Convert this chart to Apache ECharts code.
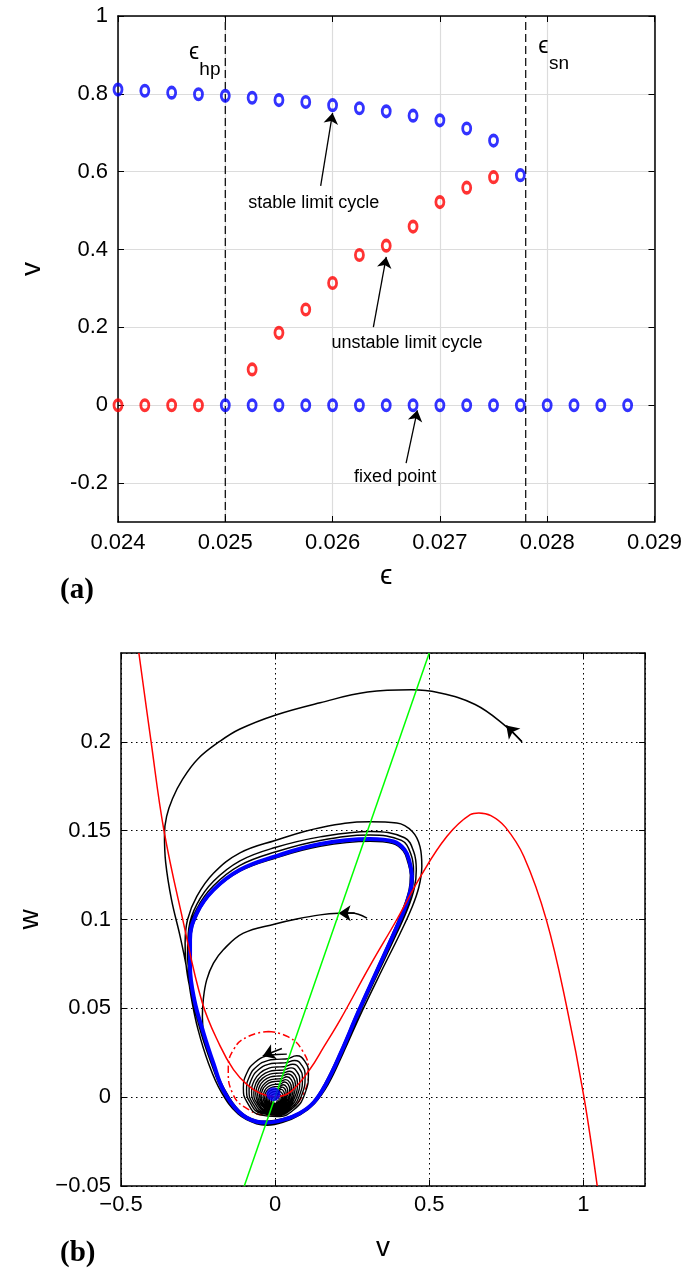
<!DOCTYPE html>
<html><head><meta charset="utf-8">
<script src="https://cdn.jsdelivr.net/npm/echarts@6/dist/echarts.min.js"></script>
<style>html,body{margin:0;padding:0;background:#fff}#c{width:685px;height:1279px}</style>
</head><body><div id="c"></div>
<script>
// ---------- panel (a) data ----------
const epsStableCycle = [0.024,0.02425,0.0245,0.02475,0.025,0.02525,0.0255,0.02575,0.026,0.02625,0.0265,0.02675,0.027,0.02725,0.0275,0.02775];
const vStableCycle   = [0.811,0.808,0.803,0.799,0.795,0.790,0.784,0.779,0.771,0.763,0.755,0.744,0.732,0.711,0.680,0.591];
const epsUnstableCycle = [0.02525,0.0255,0.02575,0.026,0.02625,0.0265,0.02675,0.027,0.02725,0.0275];
const vUnstableCycle   = [0.092,0.186,0.246,0.314,0.386,0.410,0.459,0.522,0.559,0.586];
const epsUnstableFixed = [0.024,0.02425,0.0245,0.02475];
const vUnstableFixed   = [0,0,0,0];
const epsStableFixed = [0.025,0.02525,0.0255,0.02575,0.026,0.02625,0.0265,0.02675,0.027,0.02725,0.0275,0.02775,0.028,0.02825,0.0285,0.02875];
const vStableFixed   = [0,0,0,0,0,0,0,0,0,0,0,0,0,0,0,0];
const epsHopf = 0.025, epsSaddleNode = 0.0278;
const yTicksA = [-0.2,0,0.2,0.4,0.6,0.8,1];
const annotTextsA = ['stable limit cycle','unstable limit cycle','fixed point'];
const annotPosA = [[0.025824,0.520],[0.026694,0.1595],[0.026583,-0.185]];
const annotArrowsA = [[[0.025889,0.5633],[0.0260,0.751]],[[0.02638,0.2006],[0.0265,0.381]],[[0.026685,-0.149],[0.02679,-0.013]]];

// ---------- panel (b) data ----------
const redNullcline = [[-0.442,0.250],[-0.403,0.2008],[-0.361,0.1505],[-0.300,0.1002],[-0.236,0.0530],[-0.179,0.0290],[-0.135,0.0155],[-0.092,0.0072],[-0.049,0.0022],[0.000,0.0003],[0.050,0.0030],[0.114,0.0160],[0.157,0.0280],[0.211,0.0435],[0.308,0.0740],[0.395,0.1000],[0.471,0.1240],[0.557,0.1467],[0.633,0.1590],[0.661,0.1600],[0.700,0.1585],[0.747,0.1520],[0.807,0.1355],[0.880,0.0998],[0.947,0.0500],[1.002,0.0000],[1.045,-0.0500]];
const greenNullcline = [[-0.1,-0.05],[0.5,0.25]];
const blueCycle = [[0.444,0.1250],[0.436,0.1325],[0.420,0.1393],[0.384,0.1439],[0.308,0.1453],[0.146,0.1425],[0.000,0.1355],[-0.114,0.1280],[-0.200,0.1167],[-0.254,0.1036],[-0.276,0.0886],[-0.276,0.0735],[-0.262,0.0548],[-0.232,0.0360],[-0.200,0.0190],[-0.168,0.0040],[-0.118,-0.0082],[-0.060,-0.0138],[-0.027,-0.0143],[0.025,-0.0128],[0.080,-0.0090],[0.125,-0.0030],[0.165,0.0075],[0.212,0.0245],[0.270,0.0480],[0.330,0.0710],[0.385,0.0920],[0.420,0.1060],[0.440,0.1170],[0.444,0.1250]];
const outerTraj = [[0.801,0.2000],[0.747,0.2090],[0.649,0.2210],[0.528,0.2278],[0.442,0.2293],[0.300,0.2280],[0.146,0.2220],[0.000,0.2150],[-0.114,0.2072],[-0.180,0.2002],[-0.250,0.1905],[-0.300,0.1790],[-0.333,0.1680],[-0.352,0.1580],[-0.359,0.1480],[-0.355,0.1320],[-0.336,0.1110],[-0.308,0.0904],[-0.286,0.0717],[-0.272,0.0560],[-0.250,0.0380],[-0.216,0.0190],[-0.175,0.0030],[-0.120,-0.0095],[-0.060,-0.0150],[-0.025,-0.0158],[0.025,-0.0142],[0.082,-0.0098],[0.128,-0.0035],[0.172,0.0072],[0.220,0.0245],[0.281,0.0480],[0.345,0.0710],[0.405,0.0920],[0.442,0.1060],[0.466,0.1180],[0.476,0.1300],[0.470,0.1410],[0.445,0.1495],[0.395,0.1543],[0.308,0.1550],[0.146,0.1517],[0.000,0.1445],[-0.114,0.1375],[-0.200,0.1260],[-0.254,0.1130],[-0.284,0.1000],[-0.292,0.0867],[-0.287,0.0717],[-0.268,0.0550],[-0.240,0.0360],[-0.207,0.0190],[-0.172,0.0040],[-0.120,-0.0088],[-0.060,-0.0145],[-0.027,-0.0152],[0.025,-0.0136],[0.081,-0.0094],[0.127,-0.0033],[0.168,0.0074],[0.216,0.0245],[0.275,0.0480],[0.337,0.0710],[0.394,0.0920],[0.430,0.1060],[0.452,0.1180],[0.458,0.1280],[0.450,0.1380],[0.420,0.1460],[0.308,0.1496],[0.146,0.1465],[0.000,0.1405],[-0.114,0.1330],[-0.200,0.1215],[-0.254,0.1085],[-0.280,0.0950],[-0.284,0.0810],[-0.276,0.0650],[-0.262,0.0500],[-0.236,0.0360],[-0.204,0.0190],[-0.170,0.0040],[-0.120,-0.0085],[-0.060,-0.0143],[-0.027,-0.0150],[0.025,-0.0134],[0.081,-0.0093],[0.126,-0.0032],[0.167,0.0074],[0.214,0.0245],[0.272,0.0480],[0.333,0.0710],[0.389,0.0920],[0.425,0.1060],[0.445,0.1175],[0.449,0.1275],[0.440,0.1370],[0.410,0.1445],[0.308,0.1475],[0.146,0.1445],[0.000,0.1380],[-0.114,0.1305],[-0.200,0.1190],[-0.254,0.1060],[-0.279,0.0915],[-0.280,0.0770],[-0.266,0.0560],[-0.236,0.0370]];
const innerTraj = [[0.298,0.1008],[0.270,0.1030],[0.243,0.1036],[0.206,0.1035],[0.146,0.1026],[0.070,0.1003],[0.000,0.0975],[-0.103,0.0923],[-0.168,0.0830],[-0.200,0.0754],[-0.222,0.0660],[-0.233,0.0550],[-0.236,0.0450],[-0.230,0.0340],[-0.205,0.0200],[-0.166,0.0050],[-0.117,-0.0075],[-0.060,-0.0131],[-0.027,-0.0136],[0.025,-0.0122],[0.079,-0.0086],[0.123,-0.0027],[0.162,0.0078],[0.209,0.0246],[0.267,0.0480],[0.327,0.0710],[0.381,0.0920],[0.415,0.1060],[0.435,0.1170],[0.439,0.1250],[0.431,0.1320],[0.416,0.1385],[0.382,0.1428],[0.308,0.1440],[0.146,0.1412],[0.000,0.1345],[-0.114,0.1272],[-0.200,0.1160],[-0.252,0.1030],[-0.273,0.0886],[-0.273,0.0735]];
const spiralBase = [[0.038,0.0242],[0.006,0.0240],[-0.027,0.0232],[-0.066,0.0195],[-0.092,0.0135],[-0.103,0.0051],[-0.092,-0.0025],[-0.049,-0.0100],[0.0055,-0.0109],[0.0595,-0.0072],[0.097,0.0022],[0.108,0.0135],[0.097,0.0200],[0.070,0.0233]];
const spiralCenter = [0.0,-0.003];
const spiralScales = [1,0.90,0.82,0.74,0.67,0.61,0.55,0.49,0.44,0.38,0.33,0.28,0.23,0.18,0.12,0.06];
const unstableCycle = [[-0.022,0.0370],[0.043,0.0339],[0.089,0.0260],[0.108,0.0150],[0.092,0.0020],[0.043,-0.0069],[-0.025,-0.0100],[-0.087,-0.0069],[-0.138,0.0022],[-0.152,0.0150],[-0.134,0.0270],[-0.087,0.0342],[-0.022,0.0370]];
const fixedPoint = [[-0.0055,0.0017]];
const trajArrows = [[[0.800,0.2002],[0.750,0.2092]],[[0.258,0.1036],[0.206,0.1035]],[[0.022,0.0274],[-0.040,0.0232]]];

// ---------- build ----------
const zip = (a,b) => a.map((x,i)=>[x,b[i]]);
const spiral = [];
spiralScales.forEach(s => spiralBase.forEach(p => spiral.push([spiralCenter[0]+s*(p[0]-spiralCenter[0]), spiralCenter[1]+s*(p[1]-spiralCenter[1])])));

const FF = 'Liberation Sans, Arial, DejaVu Sans, sans-serif';
const tickStyle = {show:true, inside:true, length:6, lineStyle:{color:'#000', width:1}};
const axLine = {show:true, onZero:false, lineStyle:{color:'#000', width:1.5}};
const lbl = {color:'#000', fontSize:22, fontFamily:FF};
const fmtA_y = v => { const r = Math.round(v*10)/10; return r===0?'0':String(r); };
const fmtB = d => v => { const r = Math.round(v*Math.pow(10,d))/Math.pow(10,d); return r===0?'0':String(r).replace('-','\u2212'); };
const hollow = (c) => ({color:'rgba(0,0,0,0)', borderColor:c, borderWidth:3.2});
const MS = [8,10.5];

const option = {
  animation:false,
  grid:[
    {left:118, top:16, width:540, height:506, containLabel:false},
    {left:121, top:653, width:524, height:533, containLabel:false}
  ],
  xAxis:[
    {gridIndex:0, type:'value', min:0.024, max:0.029, interval:0.001, position:'bottom',
     axisLine:axLine, axisTick:tickStyle, axisLabel:{...lbl, margin:10, formatter:v=>v.toFixed(3)},
     splitLine:{show:true, lineStyle:{color:'#dcdcdc', width:1.2}},
     name:'\u03f5', nameLocation:'middle', nameGap:40, nameTextStyle:{color:'#000', fontSize:28, fontFamily:FF}},
    {gridIndex:0, type:'value', min:0.024, max:0.029, interval:0.001, position:'top',
     axisLine:axLine, axisTick:tickStyle, axisLabel:{show:false}, splitLine:{show:false}},
    {gridIndex:1, type:'value', min:-0.5, max:1.2, interval:0.5, position:'bottom',
     axisLine:axLine, axisTick:tickStyle, axisLabel:{...lbl, margin:8, showMaxLabel:false, formatter:fmtB(1)},
     splitLine:{show:true, lineStyle:{color:'#000', width:1, type:[1.5,3.5]}},
     name:'v', nameLocation:'middle', nameGap:48, nameTextStyle:{color:'#000', fontSize:28, fontFamily:FF}},
    {gridIndex:1, type:'value', min:-0.5, max:1.2, interval:0.5, position:'top',
     axisLine:axLine, axisTick:tickStyle, axisLabel:{show:false}, splitLine:{show:false}}
  ],
  yAxis:[
    {gridIndex:0, type:'value', min:-0.3, max:1, position:'left',
     axisLine:axLine, axisTick:{...tickStyle, customValues:yTicksA},
     axisLabel:{...lbl, margin:10, customValues:yTicksA, formatter:fmtA_y},
     splitLine:{show:true, lineStyle:{color:'#dcdcdc', width:1.2}},
     name:'v', nameLocation:'middle', nameGap:72, nameRotate:90, nameTextStyle:{color:'#000', fontSize:28, fontFamily:FF}},
    {gridIndex:0, type:'value', min:-0.3, max:1, position:'right',
     axisLine:axLine, axisTick:{...tickStyle, customValues:yTicksA}, axisLabel:{show:false, customValues:yTicksA}, splitLine:{show:false}},
    {gridIndex:1, type:'value', min:-0.05, max:0.25, interval:0.05, position:'left',
     axisLine:axLine, axisTick:tickStyle, axisLabel:{...lbl, margin:10, showMaxLabel:false, formatter:fmtB(2)},
     splitLine:{show:true, lineStyle:{color:'#000', width:1, type:[1.5,3.5]}},
     name:'w', nameLocation:'middle', nameGap:74, nameRotate:90, nameTextStyle:{color:'#000', fontSize:28, fontFamily:FF}},
    {gridIndex:1, type:'value', min:-0.05, max:0.25, interval:0.05, position:'right',
     axisLine:axLine, axisTick:tickStyle, axisLabel:{show:false}, splitLine:{show:false}}
  ],
  graphic:[
    {type:'text', left:60, top:576, style:{text:'(a)', font:'bold 29px "Liberation Serif", "Times New Roman", serif', fill:'#000'}},
    {type:'text', left:60, top:1239, style:{text:'(b)', font:'bold 29px "Liberation Serif", "Times New Roman", serif', fill:'#000'}}
  ],
  series:[
    {type:'line', xAxisIndex:0, yAxisIndex:0, data:[[epsHopf,-0.3],[epsHopf,1]], showSymbol:false, lineStyle:{color:'#000', width:1.2, type:[8,4]}, z:3},
    {type:'line', xAxisIndex:0, yAxisIndex:0, data:[[epsSaddleNode,-0.3],[epsSaddleNode,1]], showSymbol:false, lineStyle:{color:'#000', width:1.2, type:[8,4]}, z:3},
    {type:'scatter', xAxisIndex:0, yAxisIndex:0, data:zip(epsStableCycle,vStableCycle), symbol:'circle', symbolSize:MS, itemStyle:hollow('#0000ff'), z:5,
     markPoint:{silent:true, symbol:'circle', symbolSize:0,
       data:[
        {coord:[0.0247083,0.905], label:{show:true, position:'inside', formatter:'\u03f5', color:'#000', fontSize:23, fontFamily:FF}},
        {coord:[0.0248565,0.862], label:{show:true, position:'inside', formatter:'hp', color:'#000', fontSize:19, fontFamily:FF}},
        {coord:[0.027963,0.922], label:{show:true, position:'inside', formatter:'\u03f5', color:'#000', fontSize:23, fontFamily:FF}},
        {coord:[0.028111,0.877], label:{show:true, position:'inside', formatter:'sn', color:'#000', fontSize:19, fontFamily:FF}}
       ]}},
    {type:'scatter', xAxisIndex:0, yAxisIndex:0, data:zip(epsUnstableCycle,vUnstableCycle), symbol:'circle', symbolSize:MS, itemStyle:hollow('#ff0000'), z:5},
    {type:'scatter', xAxisIndex:0, yAxisIndex:0, data:zip(epsUnstableFixed,vUnstableFixed), symbol:'circle', symbolSize:MS, itemStyle:hollow('#ff0000'), z:5},
    {type:'scatter', xAxisIndex:0, yAxisIndex:0, data:zip(epsStableFixed,vStableFixed), symbol:'circle', symbolSize:MS, itemStyle:hollow('#0000ff'), z:5,
     markLine:{silent:true, symbol:['none','arrow'], symbolSize:11, label:{show:false}, lineStyle:{color:'#000', width:1.3, type:'solid'},
       data:annotArrowsA.map(a=>[{coord:a[0]},{coord:a[1]}])},
     markPoint:{silent:true, symbol:'circle', symbolSize:0,
       data:annotTextsA.map((t,i)=>({coord:annotPosA[i], label:{show:true, position:'inside', formatter:t, color:'#000', fontSize:18, fontFamily:FF}}))}},

    {type:'line', xAxisIndex:2, yAxisIndex:2, data:unstableCycle, smooth:0.5, showSymbol:false, lineStyle:{color:'#ff0000', width:1.5, type:[7,3,2,3]}, z:2},
    {type:'line', xAxisIndex:2, yAxisIndex:2, data:spiral, smooth:0.5, showSymbol:false, lineStyle:{color:'#000', width:1.4}, z:3},
    {type:'line', xAxisIndex:2, yAxisIndex:2, data:outerTraj, smooth:0.4, showSymbol:false, lineStyle:{color:'#000', width:1.5}, z:3,
     markLine:{silent:true, symbol:['none','arrow'], symbolSize:12, label:{show:false}, lineStyle:{color:'#000', width:1.5, type:'solid'},
       data:trajArrows.map(a=>[{coord:a[0]},{coord:a[1]}])}},
    {type:'line', xAxisIndex:2, yAxisIndex:2, data:innerTraj, smooth:0.4, showSymbol:false, lineStyle:{color:'#000', width:1.5}, z:3},
    {type:'line', xAxisIndex:2, yAxisIndex:2, data:blueCycle, smooth:0.4, showSymbol:false, lineStyle:{color:'#0000ff', width:4}, z:4},
    {type:'line', xAxisIndex:2, yAxisIndex:2, data:redNullcline, smooth:0.4, showSymbol:false, lineStyle:{color:'#ff0000', width:1.5}, z:5},
    {type:'line', xAxisIndex:2, yAxisIndex:2, data:greenNullcline, showSymbol:false, lineStyle:{color:'#00ff00', width:1.5}, z:6},
    {type:'scatter', xAxisIndex:2, yAxisIndex:2, data:fixedPoint, symbol:'circle', symbolSize:14, itemStyle:{color:'#0000ff'}, z:7}
  ]
};
const chart = echarts.init(document.getElementById('c'), null, {renderer:'canvas'});
chart.setOption(option);
</script></body></html>
